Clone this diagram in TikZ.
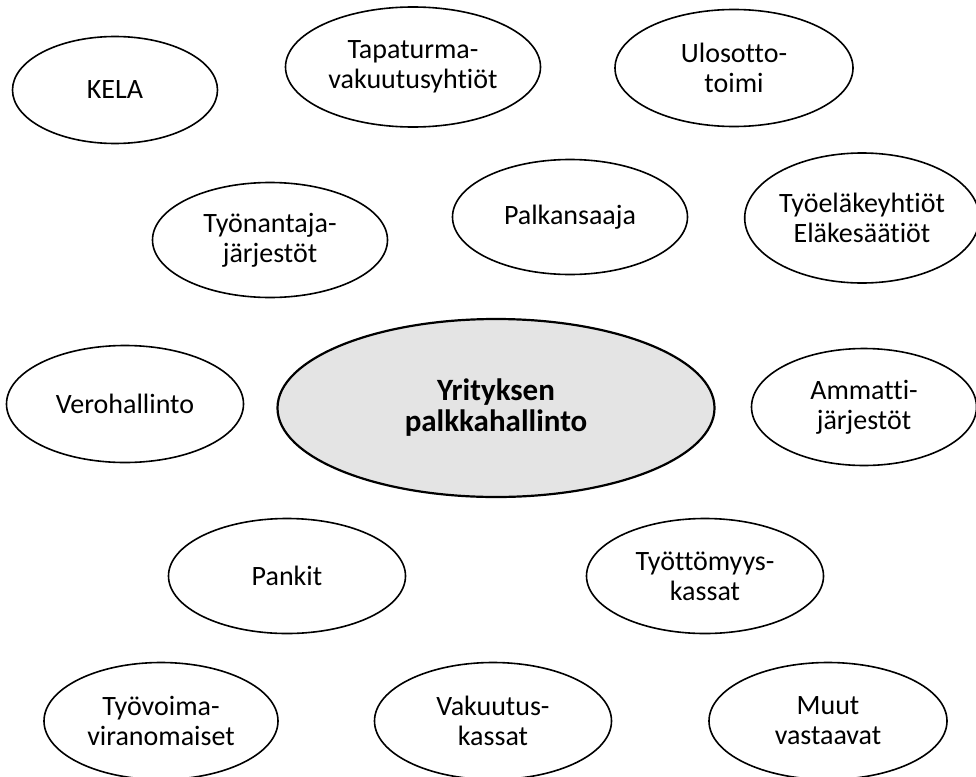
\documentclass[tikz,border=0pt]{standalone}
\usepackage{fontspec}
\setmainfont{Carlito}[Ligatures=NoCommon]
\usepackage{tikz}
\usepackage{xcolor}
\usetikzlibrary{shapes.geometric}
\definecolor{PayGrey}{HTML}{E4E4E4}
\tikzset{
  party/.style={ellipse,draw=black,line width=1.6pt,fill=white,align=center,inner sep=0pt,font=\fontsize{28}{30}\selectfont},
  core/.style={party,line width=2.2pt,fill=PayGrey,font=\bfseries\fontsize{31}{31}\selectfont}
}
\begin{document}
\begin{tikzpicture}[x=1pt,y=-1pt]
  \useasboundingbox (0,0) rectangle (976,776);
  \clip (0,0) rectangle (976,776);
  \node[party,minimum width=205,minimum height=107] (kela) at (115,90) {KELA};
  \node[party,minimum width=255,minimum height=120] (tapaturma) at (413,67) {Tapaturma-\\vakuutusyhtiöt};
  \node[party,minimum width=238,minimum height=117] (ulosotto) at (734,68) {Ulosotto-\\toimi};
  \node[party,minimum width=235,minimum height=115] (tyonantaja) at (270,240) {Työnantaja-\\järjestöt};
  \node[party,minimum width=235,minimum height=115] (palkansaaja) at (570,217) {Palkansaaja};
  \node[party,minimum width=228,minimum height=130] (elake) at (862,218) {Työeläkeyhtiöt\\Eläkesäätiöt};
  \node[party,minimum width=237,minimum height=117] (vero) at (125,404) {Verohallinto};
  \node[core,minimum width=437,minimum height=178] (palkka) at (496,408) {Yrityksen\\palkkahallinto};
  \node[party,minimum width=225,minimum height=117] (ammatti) at (864,407) {Ammatti-\\järjestöt};
  \node[party,minimum width=237,minimum height=115] (pankit) at (287,576) {Pankit};
  \node[party,minimum width=237,minimum height=115] (tyottomyys) at (705,576) {Työttömyys-\\kassat};
  \node[party,minimum width=234,minimum height=117] (tyovoima) at (161,721) {Työvoima-\\viranomaiset};
  \node[party,minimum width=237,minimum height=117] (vakuutus) at (493,721) {Vakuutus-\\kassat};
  \node[party,minimum width=238,minimum height=117] (muut) at (828,721) {Muut\\vastaavat};
\end{tikzpicture}
\end{document}
